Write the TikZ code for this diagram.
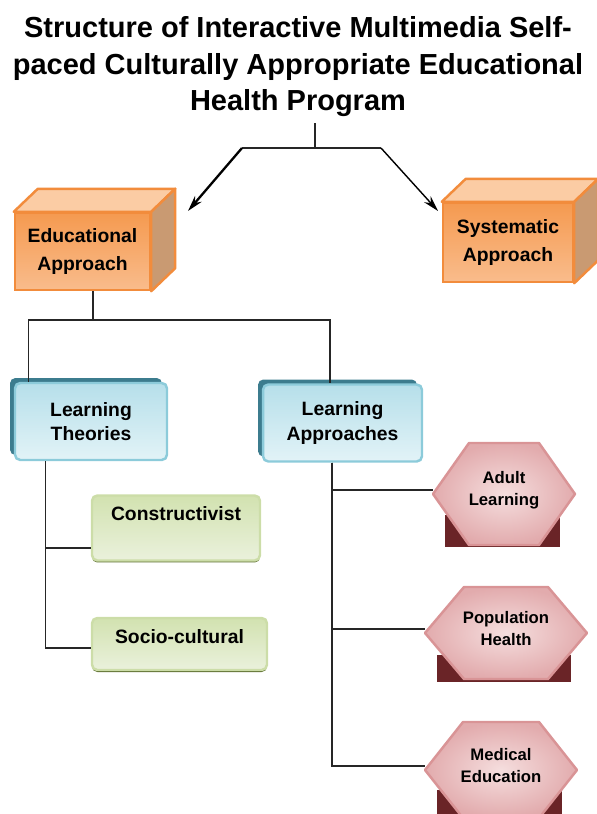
\documentclass[tikz,border=0pt]{standalone}
\usepackage{fontspec}
\setmainfont{Liberation Sans}
\usetikzlibrary{positioning,calc,arrows.meta,shadows}

\definecolor{cubeEdge}{HTML}{F28C3C}
\definecolor{cubeFront}{HTML}{F59A50}
\definecolor{cubeLight}{HTML}{F9BC8C}
\definecolor{cubeTop}{HTML}{FBCCA4}
\definecolor{cubeSide}{HTML}{C99A72}
\definecolor{blueEdge}{HTML}{8CCBDA}
\definecolor{blueDark}{HTML}{3C7C8E}
\definecolor{blueA}{HTML}{B6DFEA}
\definecolor{blueB}{HTML}{E2F3F7}
\definecolor{greenEdge}{HTML}{CCDDA8}
\definecolor{greenA}{HTML}{D2E2B0}
\definecolor{greenB}{HTML}{EAF1DC}
\definecolor{greenDark}{HTML}{5E7030}
\definecolor{hexEdge}{HTML}{D99496}
\definecolor{hexIn}{HTML}{F5DEDE}
\definecolor{hexOut}{HTML}{E2ABAD}
\definecolor{hexDark}{HTML}{6A2427}

\tikzset{
  link/.style={black!85, line width=0.6pt},
  cube/.style={draw=cubeEdge, line width=1.4pt, top color=cubeFront, bottom color=cubeLight,
    align=center, inner sep=0pt, font=\bfseries\fontsize{11}{16}\selectfont},
  cubetop/.style={fill=cubeTop, draw=cubeEdge, line width=1.4pt, line join=round},
  cubeside/.style={fill=cubeSide, draw=cubeEdge, line width=1.4pt, line join=round},
  bluebox/.style={draw=blueEdge, line width=1.4pt, rounded corners=3pt, top color=blueA, bottom color=blueB,
    align=center, inner sep=0pt, font=\bfseries\fontsize{11}{14}\selectfont,
    drop shadow={shadow xshift=-0.1cm, shadow yshift=0.1cm, fill=blueDark, opacity=1}},
  greenbox/.style={draw=greenEdge, line width=1.4pt, rounded corners=3pt, top color=greenA, bottom color=greenB,
    align=center, inner xsep=0pt, inner ysep=0.2cm, text height=0.3cm, font=\bfseries\fontsize{11}{14}\selectfont,
    drop shadow={shadow xshift=0cm, shadow yshift=-0.04cm, fill=greenDark, opacity=1}},
  hexpoly/.style={draw=hexEdge, line width=1.4pt, inner color=hexIn, outer color=hexOut, line join=round},
  hextext/.style={align=center, inner sep=0pt, font=\bfseries\fontsize{9.5}{12.5}\selectfont}
}

\begin{document}
\begin{tikzpicture}[x=0.02cm, y=-0.02cm]
\useasboundingbox (0,0) rectangle (597,814);

% title
\node[align=center, font=\bfseries\fontsize{16.5}{20.8}\selectfont] (title) at (298,67)
  {Structure of Interactive Multimedia Self-\\paced Culturally Appropriate Educational\\Health Program};

% the two cubes
\node[cube, minimum width=2.7cm, minimum height=1.54cm] (edu) at (82.5,251.5) {Educational\\Approach};
\node[cube, minimum width=2.6cm, minimum height=1.58cm] (sys) at (508,242.5) {Systematic\\Approach};
\foreach \c in {edu,sys} {
  \draw[cubetop] (\c.north west) -- ++(24,-23) -- ($(\c.north east)+(24,-23)$) -- (\c.north east) -- cycle;
  \draw[cubeside] (\c.north east) -- ++(24,-23) -- ($(\c.south east)+(24,-23)$) -- (\c.south east) -- cycle;
}

% learning boxes
\node[bluebox, minimum width=3.04cm, minimum height=1.54cm] (theo) at (91,421.5) {Learning\\Theories};
\node[bluebox, minimum width=3.18cm, minimum height=1.54cm] (appr) at (342.5,423) {Learning\\Approaches};
\node[greenbox, minimum width=3.36cm, text depth=0.6cm] (cons) at (176,528) {Constructivist};
\node[greenbox, minimum width=3.5cm, text depth=0.34cm] (socio) at (179.5,644) {Socio-cultural};

% hexagons
\foreach \nm/\cx/\cy/\a/\b/\h/\sl/\sr/\st/\sb/\txt in {
    adult/504/494/35/71/51/445/560/515/547/{Adult\\Learning},
    pop/506/633/42/81/46/437/571/655/682/{Population\\Health},
    med/501/770/38/76/48/437/562/790/820/{Medical\\Education}} {
  \fill[hexDark] (\sl,\st) rectangle (\sr,\sb);
  \draw[hexpoly] (\cx-\b,\cy) -- (\cx-\a,\cy-\h) -- (\cx+\a,\cy-\h) -- (\cx+\b,\cy)
    -- (\cx+\a,\cy+\h) -- (\cx-\a,\cy+\h) -- cycle;
  \node[hextext, minimum width=2*\b*0.02cm, minimum height=2*\h*0.02cm] (\nm) at (\cx,\cy-4) {\txt};
}

% connectors
\coordinate (split) at (315,148);
\coordinate (splitL) at (242,148);
\coordinate (splitR) at (381,148);
\coordinate (eduTip) at (188,211);
\coordinate (sysTip) at (438,211);
\coordinate (eduSplit) at (93,320);
\draw[link] (split |- title.south) -- (split);
\draw[link] (splitL) -- (splitR);
\draw[black, line width=1.3pt, -{Stealth[length=9pt,width=5pt]}] (splitL) -- (eduTip);
\draw[black, line width=0.8pt, -{Stealth[length=9pt,width=5pt]}] (splitR) -- (sysTip);
\draw[link] (eduSplit |- edu.south) -- (eduSplit);
\draw[link] ([xshift=0.3cm]theo.north west) |- (eduSplit) -| ([xshift=-0.25cm]appr.north);
\draw[link] ([xshift=0.64cm]theo.south west) |- ([yshift=-0.4cm]cons.west);
\draw[link] ([xshift=0.64cm]theo.south west) |- ([yshift=-0.08cm]socio.west);
\foreach \h in {adult,pop,med}
  \draw[link] ([xshift=-0.21cm]appr.south) |- (\h.west);
\end{tikzpicture}
\end{document}
